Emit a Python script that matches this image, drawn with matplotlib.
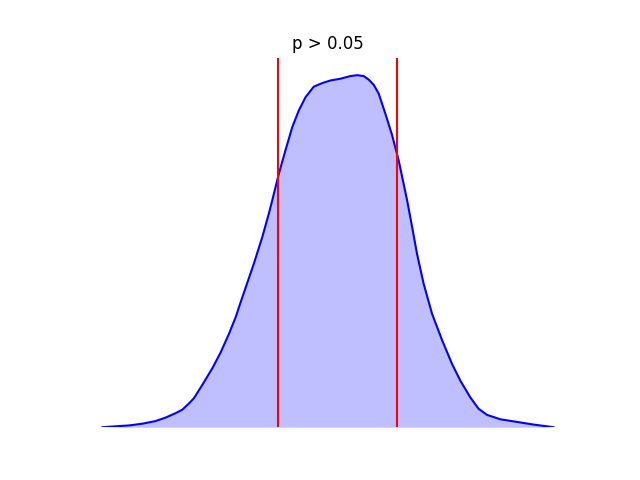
import matplotlib
matplotlib.use("Agg")
import matplotlib.pyplot as plt

# density curve
x = [-2.991, -2.815, -2.638, -2.461, -2.285, -2.152, -2.020, -1.931, -1.844,
     -1.778, -1.712, -1.675, -1.534, -1.424, -1.314, -1.225, -1.159, -0.983,
     -0.872, -0.784, -0.739, -0.652, -0.563, -0.474, -0.387, -0.298, -0.188,
     -0.077, 0.033, 0.166, 0.298, 0.387, 0.474, 0.540, 0.607, 0.673, 0.762,
     0.850, 0.938, 1.049, 1.115, 1.181, 1.269, 1.380, 1.513, 1.645, 1.755,
     1.887, 1.997, 2.109, 2.285, 2.506, 2.726, 2.991]
density = [0.000, 0.001, 0.002, 0.004, 0.007, 0.011, 0.016, 0.020, 0.027,
           0.033, 0.042, 0.047, 0.067, 0.085, 0.106, 0.125, 0.142, 0.186,
           0.216, 0.243, 0.258, 0.288, 0.315, 0.341, 0.360, 0.375, 0.387,
           0.391, 0.394, 0.396, 0.399, 0.400, 0.399, 0.395, 0.389, 0.379, 0.356,
           0.332, 0.303, 0.258, 0.228, 0.197, 0.163, 0.129, 0.099, 0.072, 0.053,
           0.034, 0.021, 0.014, 0.009, 0.006, 0.003, 0.000]

lower, upper = -0.669, 0.921
title = 'p > 0.05'

fig, ax = plt.subplots(figsize=(6.4, 4.8), dpi=100)
ax.fill_between(x, density, color='blue', alpha=0.25, linewidth=0)
ax.plot(x, density, color='blue')
ax.axvline(lower, color='red')
ax.axvline(upper, color='red')
ax.set_ylim(bottom=0)
ax.set_title(title)
ax.axis('off')

plt.savefig('out.png')
